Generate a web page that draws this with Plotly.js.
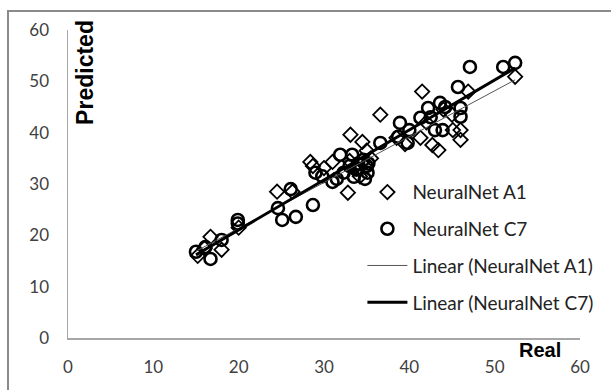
<!DOCTYPE html>
<html>
<head>
<meta charset="utf-8">
<script src="https://cdn.plot.ly/plotly-3.0.1.min.js"></script>
<style>
  html, body { margin: 0; padding: 0; background: #fff; }
  #wrap { position: relative; width: 611px; height: 390px; overflow: hidden; background: #fff; }
  #frame { position: absolute; left: 7px; top: 10px; width: 700px; height: 500px; border: 2px solid #8a8a8a; box-sizing: border-box; pointer-events: none; }
  #plot { position: absolute; left: 0; top: 0; width: 611px; height: 390px; }
</style>
</head>
<body>
<div id="wrap">
  <div id="plot"></div>
  <div id="frame"></div>
</div>
<script>
// NeuralNet A1 (diamonds): real values and predicted values
const a1Real = [15.2, 16.0, 16.7, 18.0, 20.0, 24.5, 26.3, 28.4, 28.7, 30.0, 31.0, 32.8, 33.1, 33.5, 34.5, 35.0, 34.2, 36.6, 38.5, 39.5, 41.3, 41.5, 42.0, 42.7, 43.4, 44.0, 45.0, 45.1, 46.0, 46.0, 46.9, 52.4, 35.5, 33.0];
const a1Pred = [16.0, 17.5, 19.7, 17.2, 21.5, 28.5, 28.5, 34.3, 33.5, 33.1, 34.3, 28.3, 39.6, 33.0, 38.2, 36.5, 31.5, 43.5, 39.0, 37.8, 39.0, 48.0, 42.0, 37.6, 36.6, 44.5, 43.5, 40.5, 40.5, 38.6, 48.0, 50.9, 35.0, 34.5];

// NeuralNet C7 (circles)
const c7Real = [15.0, 16.1, 16.7, 18.0, 19.9, 19.9, 24.6, 25.1, 26.1, 26.7, 28.7, 29.0, 29.8, 31.0, 31.5, 31.9, 32.3, 33.3, 33.5, 33.0, 34.0, 34.6, 35.0, 35.1, 34.8, 35.2, 36.6, 38.7, 38.9, 39.8, 40.0, 41.3, 42.2, 42.5, 43.0, 43.6, 43.9, 44.2, 45.7, 46.0, 46.0, 47.1, 51.0, 52.4, 34.0, 33.8];
const c7Pred = [16.8, 17.7, 15.4, 19.1, 23.0, 22.3, 25.3, 23.0, 29.0, 23.6, 25.9, 32.2, 31.5, 30.4, 31.0, 35.7, 32.2, 35.7, 31.4, 33.5, 33.0, 34.7, 33.5, 32.2, 31.0, 34.0, 38.0, 39.2, 41.9, 38.0, 40.5, 42.9, 44.8, 43.0, 40.5, 45.8, 40.5, 45.0, 48.9, 44.8, 43.1, 52.8, 52.8, 53.6, 34.0, 32.8];

// Linear trend lines (endpoints)
const trendA1X = [15.0, 52.4];
const trendA1Y = [16.9, 50.3];
const trendC7X = [15.0, 52.4];
const trendC7Y = [16.2, 52.6];

// Axis ticks
const tickVals = [0, 10, 20, 30, 40, 50, 60];

const labelFont = "Lato, 'Open Sans', sans-serif";
const boldFont = "'Liberation Sans', Arial, sans-serif";

const traces = [
  {
    x: a1Real, y: a1Pred, type: 'scatter', mode: 'markers', name: 'NeuralNet A1',
    legendgroup: 'g1',
    marker: { symbol: 'diamond-open', size: 11, color: '#000', line: { width: 1.8, color: '#000' } }
  },
  {
    x: c7Real, y: c7Pred, type: 'scatter', mode: 'markers', name: 'NeuralNet C7',
    legendgroup: 'g2',
    marker: { symbol: 'circle-open', size: 12, color: '#000', line: { width: 2.6, color: '#000' } }
  },
  {
    x: trendA1X, y: trendA1Y, type: 'scatter', mode: 'lines', name: 'Linear (NeuralNet A1)',
    legendgroup: 'g3',
    line: { color: '#555', width: 1 }
  },
  {
    x: trendC7X, y: trendC7Y, type: 'scatter', mode: 'lines', name: 'Linear (NeuralNet C7)',
    legendgroup: 'g4',
    line: { color: '#000', width: 3 }
  }
];

const layout = {
  width: 611, height: 390,
  margin: { l: 68, r: 31, t: 30, b: 52 },
  paper_bgcolor: '#fff', plot_bgcolor: '#fff',
  showlegend: true,
  legend: {
    x: 0.575, y: 0.535, xanchor: 'left', yanchor: 'top',
    bgcolor: 'rgba(0,0,0,0)',
    font: { family: labelFont, size: 19, color: '#222' },
    tracegroupgap: 9,
    itemwidth: 40
  },
  xaxis: {
    range: [0, 60], tickvals: tickVals, ticktext: tickVals.map(String),
    showgrid: false, zeroline: false,
    showline: true, linecolor: '#a6a6a6', linewidth: 1.5,
    ticks: '', ticklabelstandoff: 13,
    tickfont: { family: labelFont, size: 17, color: '#404040' },
    fixedrange: true
  },
  yaxis: {
    range: [0, 60], tickvals: tickVals, ticktext: tickVals.map(String),
    showgrid: false, zeroline: false,
    showline: true, linecolor: '#a6a6a6', linewidth: 1.5,
    ticks: '', ticklabelstandoff: 14,
    tickfont: { family: labelFont, size: 17, color: '#404040' },
    fixedrange: true
  },
  annotations: [
    {
      text: '<b>Predicted</b>', xref: 'paper', yref: 'paper',
      x: 0.032, y: 0.862, xanchor: 'center', yanchor: 'middle', textangle: -90, showarrow: false,
      font: { family: boldFont, size: 23, color: '#000' }
    },
    {
      text: '<b>Real</b>', xref: 'paper', yref: 'paper',
      x: 0.922, y: -0.04, xanchor: 'center', yanchor: 'middle', showarrow: false,
      font: { family: boldFont, size: 20, color: '#000' }
    }
  ]
};

Plotly.newPlot('plot', traces, layout, { displayModeBar: false, staticPlot: true });
</script>
</body>
</html>
